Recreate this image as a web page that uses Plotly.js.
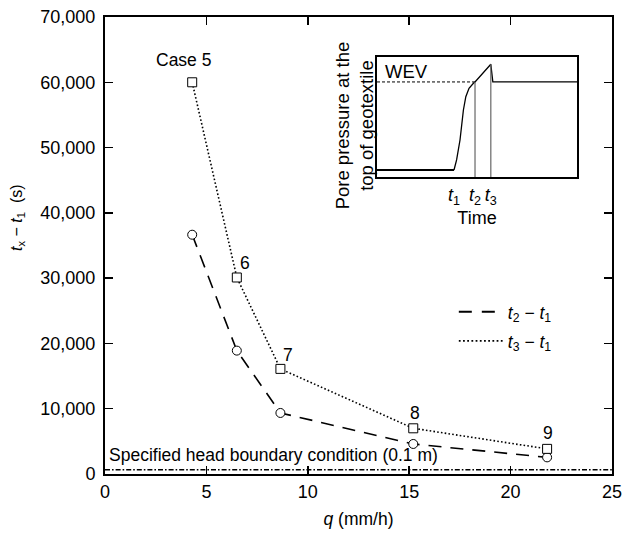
<!DOCTYPE html>
<html>
<head>
<meta charset="utf-8">
<script src="https://cdn.plot.ly/plotly-3.0.1.min.js"></script>
<style>html,body{margin:0;padding:0;background:#fff;}#chart{width:624px;height:539px;}</style>
</head>
<body>
<div id="chart"></div>
<script>
// Main chart data
const caseLabels = ["Case 5", "6", "7", "8", "9"];
const q = [4.3, 6.5, 8.65, 15.2, 21.8];          // mm/h
const t2MinusT1 = [36650, 18900, 9350, 4600, 2550]; // s
const t3MinusT1 = [60000, 30100, 16100, 7000, 3850]; // s
const labelX = [3.87, 6.9, 9.0, 15.3, 21.85];
const labelY = [63400, 32300, 18300, 9400, 6300];
const headX = [0, 25];
const headY = [650, 650];

// Inset (schematic, arbitrary units 0-100)
const insetBaseX = [0, 38.5];
const insetBaseY = [5.8, 5.8];
const insetCurveX = [38.5, 39.8, 41.5, 43.2, 44.4, 46.0, 48.2, 49.0, 56.9, 57.9, 100];
const insetCurveY = [5.8, 14.2, 30.8, 55.8, 66.9, 73.9, 78.1, 79.2, 93.9, 79.2, 79.2];
const wevX = [0, 49];
const wevY = [79.2, 79.2];
const t2LineX = [49, 49];
const t2LineY = [0, 79.2];
const t3LineX = [56.9, 56.9];
const t3LineY = [0, 93.9];
const insetTickVals = [38.5, 49, 56.9];
const insetTickText = ["<i>t</i><sub>1</sub>", "<i>t</i><sub>2</sub>", "<i>t</i><sub>3</sub>"];

const FONT = "Liberation Sans, Arial, Helvetica, sans-serif";
const FS = 17.5;
const dashT2 = "13px,9px";
const dotT3 = "1.6px,2.2px";

const traces = [
  {x: headX, y: headY, mode: "lines", line: {color: "#000", width: 1.6, dash: "5px,2px,1.6px,2px"}, showlegend: false, hoverinfo: "skip"},
  {x: q, y: t2MinusT1, mode: "lines+markers", line: {color: "#000", width: 1.6, dash: dashT2},
   marker: {symbol: "circle", size: 9, color: "#fff", line: {color: "#000", width: 1}}, showlegend: false},
  {x: q, y: t3MinusT1, mode: "lines+markers", line: {color: "#000", width: 1.6, dash: dotT3},
   marker: {symbol: "square", size: 9, color: "#fff", line: {color: "#000", width: 1}}, showlegend: false},
  {x: [null], y: [null], mode: "lines", name: "<i>t</i><sub>2</sub> − <i>t</i><sub>1</sub>", legend: "legend",
   line: {color: "#000", width: 2, dash: "13px,10px"}},
  {x: [null], y: [null], mode: "lines", name: "<i>t</i><sub>3</sub> − <i>t</i><sub>1</sub>", legend: "legend2",
   line: {color: "#000", width: 1.8, dash: "1.8px,2.4px"}},
  // inset
  {x: insetBaseX, y: insetBaseY, xaxis: "x2", yaxis: "y2", mode: "lines", line: {color: "#000", width: 2}, showlegend: false, hoverinfo: "skip"},
  {x: insetCurveX, y: insetCurveY, xaxis: "x2", yaxis: "y2", mode: "lines", line: {color: "#000", width: 1.3}, showlegend: false, hoverinfo: "skip"},
  {x: wevX, y: wevY, xaxis: "x2", yaxis: "y2", mode: "lines", line: {color: "#000", width: 1, dash: "3px,2px"}, showlegend: false, hoverinfo: "skip"},
  {x: t2LineX, y: t2LineY, xaxis: "x2", yaxis: "y2", mode: "lines", line: {color: "#666", width: 1.2}, showlegend: false, hoverinfo: "skip"},
  {x: t3LineX, y: t3LineY, xaxis: "x2", yaxis: "y2", mode: "lines", line: {color: "#666", width: 1.2}, showlegend: false, hoverinfo: "skip"}
];

const annotations = caseLabels.map((t, i) => ({
  x: labelX[i], y: labelY[i], xref: "x", yref: "y", text: t, showarrow: false,
  xanchor: "center", yanchor: "middle",
  font: {family: FONT, size: FS, color: "#000"}
}));
annotations.push({x: 0.1, y: 2900, xref: "x", yref: "y", xanchor: "left", yanchor: "middle",
  text: "Specified head boundary condition (0.1 m)", showarrow: false, font: {family: FONT, size: FS, color: "#000"}});
annotations.push({x: -0.1716, y: 0.5624, xref: "paper", yref: "paper", textangle: -90, xanchor: "center", yanchor: "middle",
  text: "<i>t</i><sub>x</sub> − <i>t</i><sub>1</sub>\u00a0\u00a0(s)", showarrow: false, font: {family: FONT, size: 16, color: "#000"}});
annotations.push({x: 3, y: 87.5, xref: "x2", yref: "y2", xanchor: "left", yanchor: "middle",
  text: "WEV", showarrow: false, font: {family: FONT, size: 18.5, color: "#000"}});
annotations.push({x: -0.115, y: 0.43, xref: "x2 domain", yref: "y2 domain", textangle: -90, xanchor: "center", yanchor: "middle",
  text: "Pore pressure at the<br>top of geotextile", showarrow: false, font: {family: FONT, size: 18.5, color: "#000"}});

const axisCommon = {
  showline: true, linecolor: "#000", linewidth: 2, mirror: "ticks", ticks: "inside", ticklen: 8,
  tickwidth: 1.5, tickcolor: "#000", showgrid: false, zeroline: false,
  tickfont: {family: FONT, size: 18, color: "#000"}
};

const legendCommon = {xanchor: "left", yanchor: "middle", bgcolor: "rgba(0,0,0,0)", itemwidth: 44,
  font: {family: FONT, size: FS, color: "#000"}};

const layout = {
  width: 624, height: 539,
  margin: {l: 105, r: 12, t: 17, b: 65},
  paper_bgcolor: "#fff", plot_bgcolor: "#fff",
  font: {family: FONT, size: FS, color: "#000"},
  xaxis: Object.assign({}, axisCommon, {range: [0, 25], tickvals: [0, 5, 10, 15, 20, 25], ticklabelstandoff: 0,
    title: {text: "<i>q</i> (mm/h)", font: {family: FONT, size: FS}, standoff: 12}}),
  yaxis: Object.assign({}, axisCommon, {range: [0, 70000], tickvals: [0, 10000, 20000, 30000, 40000, 50000, 60000, 70000],
    tickformat: ",", ticklabelstandoff: 4}),
  xaxis2: {domain: [0.5365, 0.931], anchor: "y2", range: [0, 100], showline: true, linecolor: "#000", linewidth: 2.2,
    mirror: true, ticks: "", showgrid: false, zeroline: false, tickvals: insetTickVals, ticktext: insetTickText,
    tickfont: {family: FONT, size: 18, color: "#000"}, title: {text: "Time", font: {family: FONT, size: 18}, standoff: 2}},
  yaxis2: {domain: [0.650, 0.9125], anchor: "x2", range: [0, 100], showline: true, linecolor: "#000", linewidth: 2.2,
    mirror: true, ticks: "", showgrid: false, zeroline: false, showticklabels: false},
  showlegend: true,
  legend: Object.assign({}, legendCommon, {x: 0.688, y: 0.3545}),
  legend2: Object.assign({}, legendCommon, {x: 0.688, y: 0.291}),
  annotations: annotations
};

Plotly.newPlot("chart", traces, layout, {displayModeBar: false, staticPlot: true});
</script>
</body>
</html>
